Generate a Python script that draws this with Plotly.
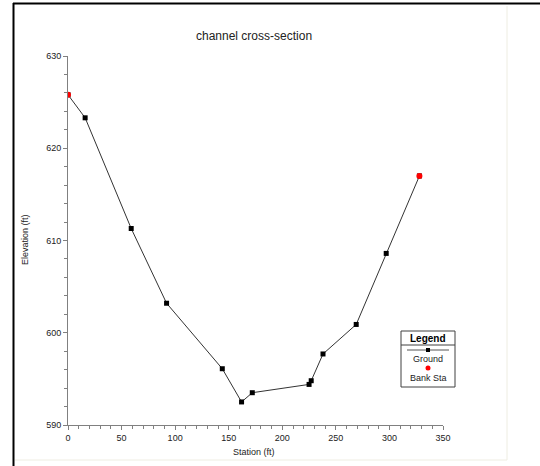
import plotly.graph_objects as go

station = [0, 16, 59, 92, 144, 162, 172, 225, 227, 238, 269, 297, 328]
elevation = [625.8, 623.3, 611.3, 603.2, 596.1, 592.5, 593.5, 594.4, 594.8, 597.7, 600.9, 608.6, 617.0]
bank_station = [0, 328]
bank_elevation = [625.8, 617.0]

title_text = "channel cross-section"
x_title = "Station (ft)"
y_title = "Elevation (ft)"
x_ticks = [0, 50, 100, 150, 200, 250, 300, 350]
y_ticks = [590, 600, 610, 620, 630]

W, H = 540, 466
L, R, T, B = 68, 443, 56, 425
FONT = "Liberation Sans, Arial, sans-serif"

fig = go.Figure()
fig.add_trace(go.Scatter(
    x=station, y=elevation, mode="lines+markers",
    line=dict(color="#333333", width=1),
    marker=dict(symbol="square", size=5, color="black"),
    showlegend=False, hoverinfo="x+y"))
fig.add_trace(go.Scatter(
    x=bank_station, y=bank_elevation, mode="markers",
    marker=dict(symbol="circle", size=6, color="#ff0000"),
    showlegend=False))

def px(x):
    return (x - L) / (R - L)
def py(y):
    return (B - y) / (B - T)

shapes = []
# outer window border
shapes.append(dict(type="line", xref="paper", yref="paper", x0=px(13.5), x1=px(13.5), y0=py(H + 2), y1=py(3), line=dict(color="black", width=2)))
shapes.append(dict(type="line", xref="paper", yref="paper", x0=px(13), x1=px(W + 2), y0=py(3.5), y1=py(3.5), line=dict(color="black", width=2)))
# faint panel lines
shapes.append(dict(type="line", xref="paper", yref="paper", x0=px(507), x1=px(507), y0=py(460), y1=py(6), line=dict(color="#eeede2", width=1)))
shapes.append(dict(type="line", xref="paper", yref="paper", x0=px(15), x1=px(507), y0=py(460), y1=py(460), line=dict(color="#eeede2", width=1)))
# legend box
lx0, lx1, ly0, ly1 = 401, 455, 331, 387
shapes.append(dict(type="rect", xref="paper", yref="paper", x0=px(lx0), x1=px(lx1), y0=py(ly1), y1=py(ly0), line=dict(color="#404040", width=1), fillcolor="white"))
shapes.append(dict(type="line", xref="paper", yref="paper", x0=px(lx0), x1=px(lx1), y0=py(345), y1=py(345), line=dict(color="#404040", width=1)))
shapes.append(dict(type="line", xref="paper", yref="paper", x0=px(407), x1=px(449), y0=py(350), y1=py(350), line=dict(color="#555555", width=1)))
shapes.append(dict(type="rect", xref="paper", yref="paper", x0=px(426), x1=px(430), y0=py(352), y1=py(348), line=dict(width=0), fillcolor="black"))
shapes.append(dict(type="circle", xref="paper", yref="paper", x0=px(425.5), x1=px(430.5), y0=py(370.5), y1=py(365.5), line=dict(width=0), fillcolor="#ff0000"))

annotations = [
    dict(text=title_text, xref="paper", yref="paper", x=px(254), y=py(36), showarrow=False, font=dict(family=FONT, size=12, color="#222222"), xanchor="center", yanchor="middle"),
    dict(text=x_title, xref="paper", yref="paper", x=px(254), y=py(452), showarrow=False, font=dict(family=FONT, size=9, color="#222222"), xanchor="center", yanchor="middle"),
    dict(text=y_title, xref="paper", yref="paper", x=px(25), y=py(240), showarrow=False, textangle=-90, font=dict(family=FONT, size=9, color="#222222"), xanchor="center", yanchor="middle"),
    dict(text="<b>Legend</b>", xref="paper", yref="paper", x=px(428), y=py(338), showarrow=False, font=dict(family=FONT, size=10, color="black"), xanchor="center", yanchor="middle"),
    dict(text="Ground", xref="paper", yref="paper", x=px(428), y=py(359), showarrow=False, font=dict(family=FONT, size=9, color="#222222"), xanchor="center", yanchor="middle"),
    dict(text="Bank Sta", xref="paper", yref="paper", x=px(428), y=py(378), showarrow=False, font=dict(family=FONT, size=9, color="#222222"), xanchor="center", yanchor="middle"),
]

fig.update_layout(
    width=W, height=H,
    margin=dict(l=L, r=W - R, t=T, b=H - B, pad=0),
    paper_bgcolor="white", plot_bgcolor="white",
    shapes=shapes, annotations=annotations,
    font=dict(family=FONT, size=9, color="#222222"),
)
fig.update_xaxes(range=[0, 350], tickvals=x_ticks, showgrid=False, zeroline=False,
                 showline=True, linecolor="#808080", linewidth=1,
                 ticks="outside", ticklen=4, tickcolor="#808080",
                 minor=dict(dtick=10, ticks="outside", ticklen=3, tickcolor="#808080"),
                 tickfont=dict(family=FONT, size=9, color="#222222"))
fig.update_yaxes(range=[590, 630], tickvals=y_ticks, showgrid=False, zeroline=False,
                 showline=True, linecolor="#808080", linewidth=1,
                 ticks="outside", ticklen=4, tickcolor="#808080",
                 minor=dict(dtick=2, ticks="outside", ticklen=3, tickcolor="#808080"),
                 tickfont=dict(family=FONT, size=9, color="#222222"))

fig.write_html("out.html")
